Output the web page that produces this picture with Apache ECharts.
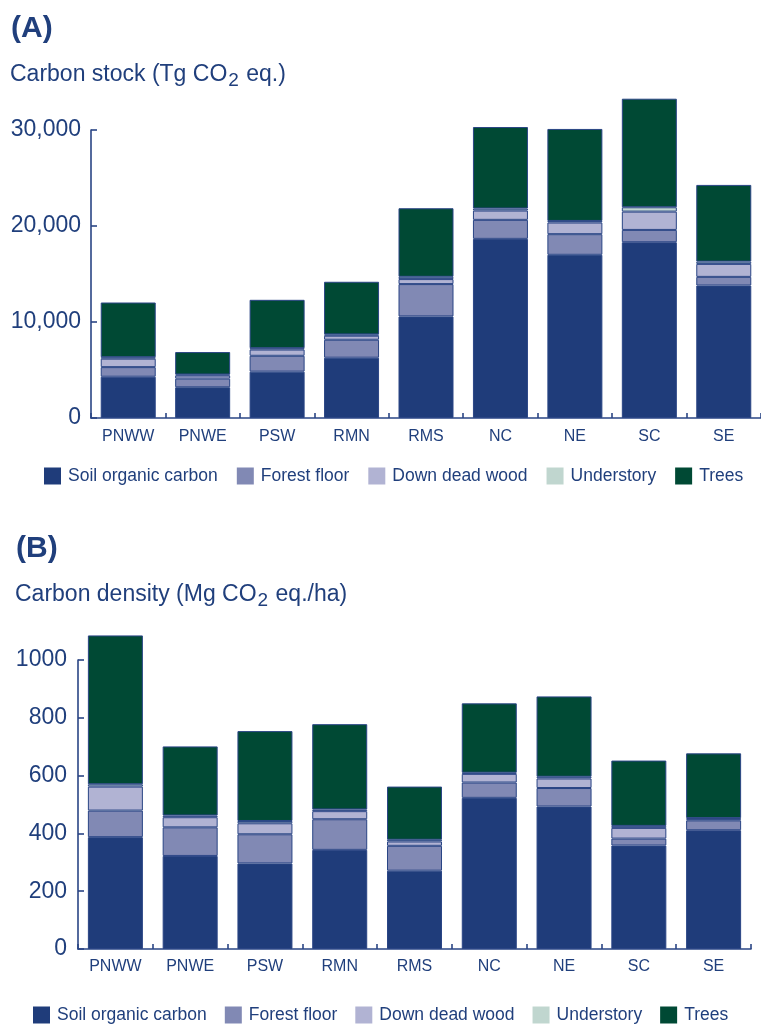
<!DOCTYPE html>
<html><head><meta charset="utf-8">
<script src="https://cdn.jsdelivr.net/npm/echarts@6/dist/echarts.min.js"></script>
<style>html,body{margin:0;padding:0;background:#fff}#c{width:761px;height:1026px}</style>
</head><body><div id="c"></div>
<script>
const regions = ['PNWW','PNWE','PSW','RMN','RMS','NC','NE','SC','SE'];
const seriesNames = ['Soil organic carbon','Forest floor','Down dead wood','Understory','Trees'];
const seriesColors = ['#1f3c7a','#8189b4','#b1b3d3','#c0d6cf','#004934'];

// (A) Carbon stock, Tg CO2 eq.
const stockSoil  = [4300, 3200, 4830, 6280, 10580, 18660, 17000, 18310, 13800];
const stockFloor = [1000,  900, 1650, 1870,  3370,  1980,  2150,  1280,   900];
const stockWood  = [ 880,  330,  650,  420,   520,   970,  1210,  1910,  1350];
const stockUnder = [ 150,  100,  140,  140,   240,   210,   170,   450,   240];
const stockTrees = [5700, 2340, 5040, 5480,  7140,  8490,  9580, 11310,  7990];
const stockTicks = [0, 10000, 20000, 30000];

// (B) Carbon density, Mg CO2 eq./ha
const densSoil  = [387, 322, 296, 343, 271, 523, 493, 358, 411];
const densFloor = [ 92,  99, 101, 106,  86,  53,  64,  24,  34];
const densWood  = [ 83,  35,  38,  28,  15,  30,  33,  37,   4];
const densUnder = [  8,   6,   8,   6,   6,   4,   6,   7,   4];
const densTrees = [515, 239, 311, 295, 184, 240, 278, 226, 224];
const densTicks = [0, 200, 400, 600, 800, 1000];

const TXT = '#203f7c';
const LINE = '#2a4585';
const FONT = "'Liberation Sans', Arial, sans-serif";

const stockData = [stockSoil, stockFloor, stockWood, stockUnder, stockTrees];
const densData = [densSoil, densFloor, densWood, densUnder, densTrees];

function makeSeries(dataSets, idx, stack) {
  return dataSets.map((d, i) => ({
    name: seriesNames[i], type: 'bar', stack: stack,
    xAxisIndex: idx, yAxisIndex: idx, data: d, barWidth: 55, clip: false,
    itemStyle: { color: seriesColors[i], borderColor: LINE, borderWidth: 1 }
  }));
}
function xAx(idx) {
  return {
    type: 'category', gridIndex: idx, data: regions,
    axisLine: { lineStyle: { color: LINE, width: 1.6 } },
    axisTick: { show: true, inside: true, length: 5, alignWithLabel: false, lineStyle: { color: LINE, width: 1.6 } },
    axisLabel: { margin: idx === 0 ? 11 : 10, fontSize: 16, color: TXT, fontFamily: FONT }
  };
}
function yAx(idx, ticks, comma) {
  const iv = ticks[1] - ticks[0];
  return {
    type: 'value', gridIndex: idx, min: ticks[0], max: ticks[ticks.length - 1], interval: iv,
    splitLine: { show: false },
    axisLine: { show: true, lineStyle: { color: LINE, width: 1.6 } },
    axisTick: { show: true, inside: true, length: 6, lineStyle: { color: LINE, width: 1.6 } },
    axisLabel: { margin: idx === 0 ? 10 : 11, fontSize: 23, color: TXT, fontFamily: FONT,
      formatter: v => comma ? v.toString().replace(/\B(?=(\d{3})+(?!\d))/g, ',') : String(v) }
  };
}
function legend(left, top, gap) {
  return {
    data: seriesNames, left: left, top: top, width: 740, icon: 'rect', itemWidth: 17, itemHeight: 17, itemGap: gap,
    selectedMode: false, padding: 0,
    itemStyle: { borderWidth: 0 },
    textStyle: { fontSize: 17.5, color: TXT, fontFamily: FONT, padding: [0, 0, 0, 2] }
  };
}
const rich = {
  a: { fontSize: 23, fontWeight: 'normal', color: TXT, fontFamily: FONT, lineHeight: 30, verticalAlign: 'middle' },
  s: { fontSize: 19, fontWeight: 'normal', color: TXT, fontFamily: FONT, lineHeight: 20, verticalAlign: 'bottom', padding: [0, 1, 0, 1] }
};

const chart = echarts.init(document.getElementById('c'), null, { renderer: 'canvas' });
chart.setOption({
  animation: false,
  backgroundColor: '#ffffff',
  title: [
    { text: '(A)', left: 6, top: 9, textStyle: { fontSize: 30, fontWeight: 'bold', color: TXT, fontFamily: FONT } },
    { text: '{a|Carbon stock (Tg CO}{s|2}{a| eq.)}', left: 5, top: 55, textStyle: { fontWeight: 'normal', rich: rich } },
    { text: '(B)', left: 11, top: 529, textStyle: { fontSize: 30, fontWeight: 'bold', color: TXT, fontFamily: FONT } },
    { text: '{a|Carbon density (Mg CO}{s|2}{a| eq./ha)}', left: 10, top: 575, textStyle: { fontWeight: 'normal', rich: rich } }
  ],
  legend: [legend(44, 467, 19), legend(33, 1006, 18)],
  grid: [
    { left: 91, top: 130, width: 673, height: 288 },
    { left: 78, top: 660, width: 673, height: 289 }
  ],
  xAxis: [xAx(0), xAx(1)],
  yAxis: [yAx(0, stockTicks, true), yAx(1, densTicks, false)],
  series: makeSeries(stockData, 0, 'stock').concat(makeSeries(densData, 1, 'dens'))
});
</script></body></html>
